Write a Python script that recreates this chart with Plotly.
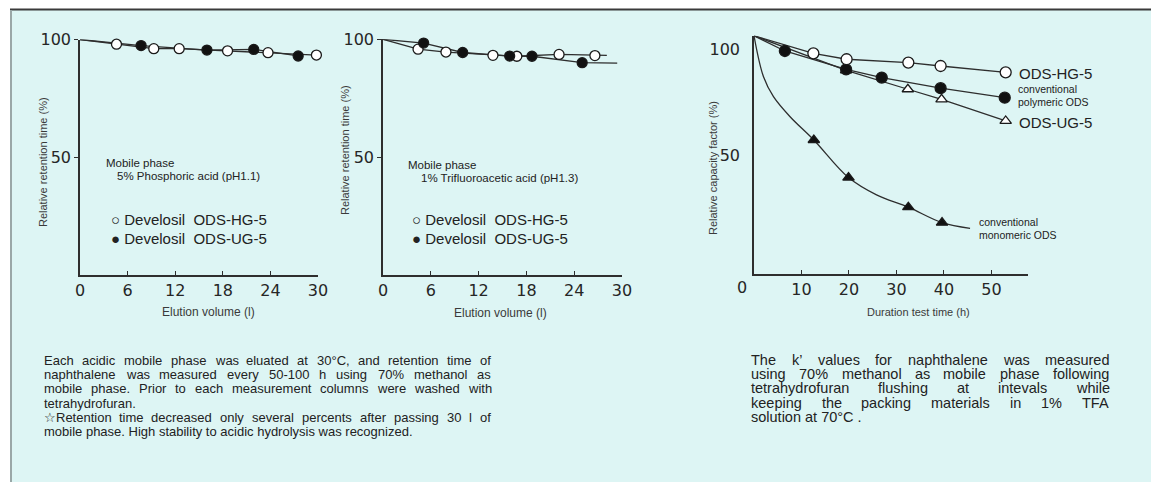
import plotly.graph_objects as go

W, H = 1151, 482

# ---------------- data ----------------
# Panel 1 : 5% phosphoric acid (relative retention time, %)
p1_hg_x = [4.6, 9.3, 12.5, 18.6, 23.7, 29.8]
p1_hg_y = [98.0, 96.1, 96.1, 95.2, 94.4, 93.4]
p1_ug_x = [7.7, 16.0, 21.9, 27.5]
p1_ug_y = [97.4, 95.5, 95.8, 93.0]

# Panel 2 : 1% trifluoroacetic acid
p2_hg_x = [4.4, 7.9, 13.8, 16.8, 22.1, 26.6]
p2_hg_y = [95.8, 94.6, 93.2, 92.8, 93.6, 93.1]
p2_ug_x = [5.1, 10.0, 15.9, 18.7, 25.0]
p2_ug_y = [98.4, 94.4, 92.9, 92.8, 90.1]
p2_hg_tail = [28.1, 93.2]
p2_ug_tail = [29.4, 89.9]
start_12 = [0, 100.0]

# Panel 3 : relative capacity factor (%) vs duration test time (h)
start_3 = [0, 106.4]
hg3_t = [12.5, 19.5, 32.5, 39.3, 53.0]
hg3_v = [98.1, 95.3, 93.7, 92.1, 89.1]
pol_t = [6.5, 19.4, 26.9, 39.3, 52.8]
pol_v = [99.2, 90.5, 86.6, 81.6, 77.1]
ug3_t = [19.4, 32.4, 39.5, 53.0]
ug3_v = [90.0, 81.1, 76.3, 66.1]
mono_t = [12.6, 19.9, 32.5, 39.6]
mono_v = [57.1, 39.3, 25.3, 18.0]
mono_curve_t = [0, 2.0, 4.1, 7.6, 12.6, 19.9, 25.8, 32.5, 39.6, 45.5]
mono_curve_v = [106.4, 87.0, 77.6, 68.1, 57.1, 39.3, 31.1, 25.3, 18.0, 15.3]

x_ticks_12 = [0, 6, 12, 18, 24, 30]
y_ticks = [50, 100]
x_ticks_3 = [10, 20, 30, 40, 50]

left_lines = [
    "Each acidic mobile phase was eluated at 30°C, and retention time of",
    "naphthalene was measured every 50-100 h using 70% methanol as",
    "mobile phase. Prior to each measurement columns were washed with",
    "tetrahydrofuran.",
    "☆Retention time decreased only several percents after passing 30 l of",
    "mobile phase. High stability to acidic hydrolysis was recognized.",
]
left_natural = [3, 5]
right_lines = [
    "The k’ values for naphthalene was measured",
    "using 70% methanol as mobile phase following",
    "tetrahydrofuran flushing at intevals while",
    "keeping the packing materials in 1% TFA",
    "solution at 70°C .",
]
right_natural = [4]

# ---------------- helpers ----------------
def fx(px):
    return px / W

def fy(py):
    return 1 - py / H

LINE = "#2e2e2e"
INK = "#222222"
FONT = "Liberation Sans, Arial, sans-serif"

fig = go.Figure()

def line(xs, ys, xa, ya, shape="linear"):
    fig.add_trace(go.Scatter(x=xs, y=ys, mode="lines", xaxis=xa, yaxis=ya,
                             line=dict(color=LINE, width=1.3, shape=shape),
                             cliponaxis=False, hoverinfo="skip"))

def marks(xs, ys, xa, ya, symbol, filled, size=10):
    fig.add_trace(go.Scatter(x=xs, y=ys, mode="markers", xaxis=xa, yaxis=ya,
                             marker=dict(symbol=symbol, size=size,
                                         color="#111111" if filled else "white",
                                         line=dict(color="#1a1a1a", width=1.3)),
                             cliponaxis=False))

# panel 1
line([start_12[0]] + p1_hg_x, [start_12[1]] + p1_hg_y, "x", "y")
line([start_12[0]] + p1_ug_x, [start_12[1]] + p1_ug_y, "x", "y")
marks(p1_hg_x, p1_hg_y, "x", "y", "circle", False)
marks(p1_ug_x, p1_ug_y, "x", "y", "circle", True)

# panel 2
line([start_12[0]] + p2_hg_x + [p2_hg_tail[0]], [start_12[1]] + p2_hg_y + [p2_hg_tail[1]], "x2", "y2")
line([start_12[0]] + p2_ug_x + [p2_ug_tail[0]], [start_12[1]] + p2_ug_y + [p2_ug_tail[1]], "x2", "y2")
marks(p2_hg_x, p2_hg_y, "x2", "y2", "circle", False)
marks(p2_ug_x, p2_ug_y, "x2", "y2", "circle", True)

# panel 3
line([start_3[0]] + hg3_t, [start_3[1]] + hg3_v, "x3", "y3")
line([start_3[0]] + pol_t, [start_3[1]] + pol_v, "x3", "y3")
line([start_3[0]] + ug3_t, [start_3[1]] + ug3_v, "x3", "y3")
line(mono_curve_t, mono_curve_v, "x3", "y3", shape="spline")
marks(ug3_t, ug3_v, "x3", "y3", "triangle-up", False, 10)
marks(pol_t, pol_v, "x3", "y3", "circle", True, 11)
marks(hg3_t, hg3_v, "x3", "y3", "circle", False, 11)
marks(mono_t, mono_v, "x3", "y3", "triangle-up", True, 10)

axis_common = dict(showline=True, linecolor=LINE, linewidth=1.5, showgrid=False,
                   zeroline=False, tickcolor=LINE, automargin=False, fixedrange=True,
                   tickfont=dict(family="DejaVu Sans, sans-serif", size=16, color="#262626"))

fig.update_layout(
    width=W, height=H, autosize=False,
    margin=dict(l=0, r=0, t=0, b=0, pad=0),
    paper_bgcolor="white", plot_bgcolor="rgba(0,0,0,0)",
    showlegend=False,
    font=dict(family=FONT, color=INK),
    xaxis=dict(axis_common, domain=[fx(80), fx(318)], range=[0, 30], tickvals=x_ticks_12,
               ticks="inside", ticklen=4, anchor="y"),
    yaxis=dict(axis_common, domain=[fy(275), fy(39.5)], range=[0, 100], tickvals=y_ticks,
               ticks="outside", ticklen=4, anchor="x"),
    xaxis2=dict(axis_common, domain=[fx(383), fx(622)], range=[0, 30], tickvals=x_ticks_12,
                ticks="inside", ticklen=4, anchor="y2"),
    yaxis2=dict(axis_common, domain=[fy(275), fy(39.3)], range=[0, 100], tickvals=y_ticks,
                ticks="outside", ticklen=4, anchor="x2"),
    xaxis3=dict(axis_common, domain=[fx(754), fx(1028)], range=[0, 57.7], tickvals=x_ticks_3,
                ticks="inside", ticklen=4, anchor="y3"),
    yaxis3=dict(axis_common, domain=[fy(274), fy(35.7)], range=[-6.29, 106.43], tickvals=y_ticks,
                ticks="", ticklabelstandoff=9, anchor="x3"),
)

# background card
fig.add_shape(type="rect", xref="paper", yref="paper", x0=fx(10), x1=1, y0=0, y1=fy(10),
              fillcolor="#ddf5f4", line=dict(width=0), layer="below")
fig.add_shape(type="line", xref="paper", yref="paper", x0=fx(10), x1=1, y0=fy(9.5), y1=fy(9.5),
              line=dict(color="#3a3a3a", width=2), layer="below")
fig.add_shape(type="line", xref="paper", yref="paper", x0=fx(11), x1=fx(11), y0=0, y1=fy(10),
              line=dict(color="#9aa7a7", width=2), layer="below")

def note(text, px, py, size, xanchor="left", angle=0, color=INK, family=FONT):
    fig.add_annotation(text=text, x=fx(px), y=fy(py), xref="paper", yref="paper",
                       xanchor=xanchor, yanchor="middle", showarrow=False, textangle=angle,
                       borderpad=0, font=dict(size=size, color=color, family=family))

NB = "\u00a0"
# panel 1 texts
note("Relative retention time (%)", 43, 162, 11, "center", -90, "#3a3a3a")
note("Elution volume (l)", 208, 312, 12, "center", 0, "#3a3a3a")
note("Mobile phase", 105, 163, 11.5)
note("5% Phosphoric acid (pH1.1)", 116, 176, 11.5)
note("○ Develosil" + NB * 2 + "ODS-HG-5", 110, 220, 15)
note("● Develosil" + NB * 2 + "ODS-UG-5", 110, 238, 15)
# panel 2 texts
note("Relative retention time (%)", 345, 150, 11, "center", -90, "#3a3a3a")
note("Elution volume (l)", 500, 313, 12, "center", 0, "#3a3a3a")
note("Mobile phase", 407, 165, 11.5)
note("1% Trifluoroacetic acid (pH1.3)", 420, 178, 11.5)
note("○ Develosil" + NB * 2 + "ODS-HG-5", 411, 220, 15)
note("● Develosil" + NB * 2 + "ODS-UG-5", 411, 238, 15)
# panel 3 texts
note("0", 742, 287, 16, "center", 0, "#262626", "DejaVu Sans, sans-serif")
note("Relative capacity factor (%)", 713, 168, 11, "center", -90, "#3a3a3a")
note("Duration test time (h)", 918, 312, 11, "center", 0, "#3a3a3a")
note("ODS-HG-5", 1018, 73, 15)
note("conventional", 1017, 89, 10.5)
note("polymeric ODS", 1017, 101.5, 10.5)
note("ODS-UG-5", 1018, 122, 15)
note("conventional", 978, 222, 10.5)
note("monomeric ODS", 978, 235, 10.5)

# justified captions
ARIAL = {' ': 278, '%': 889, "'": 191, '’': 222, '(': 333, ')': 333, ',': 278, '-': 333, '.': 278,
         '°': 400, '☆': 838,
         'A': 667, 'B': 667, 'C': 722, 'D': 722, 'E': 667, 'F': 611, 'G': 778, 'H': 722, 'I': 278,
         'K': 667, 'L': 556, 'M': 833, 'N': 722, 'O': 778, 'P': 667, 'R': 722, 'S': 667, 'T': 611,
         'a': 556, 'b': 556, 'c': 500, 'd': 556, 'e': 556, 'f': 278, 'g': 556, 'h': 556, 'i': 222,
         'j': 222, 'k': 500, 'l': 222, 'm': 833, 'n': 556, 'o': 556, 'p': 556, 'q': 556, 'r': 333,
         's': 500, 't': 278, 'u': 556, 'v': 500, 'w': 722, 'x': 500, 'y': 500, 'z': 500}

def text_w(s, size):
    return sum(ARIAL.get(c, 556) for c in s) * size / 1000.0

def paragraph(lines, natural, x_left, x_right, y0, dy, size):
    for i, ln in enumerate(lines):
        py = y0 + i * dy
        if i in natural:
            note(ln, x_left, py, size)
            continue
        words = ln.split(" ")
        widths = [text_w(w, size) for w in words]
        gap = (x_right - x_left - sum(widths)) / (len(words) - 1)
        pos = x_left
        for w, ww in zip(words, widths):
            note(w, pos, py, size)
            pos += ww + gap

paragraph(left_lines, left_natural, 43, 490, 360, 14.35, 13)
paragraph(right_lines, right_natural, 750, 1108, 360, 14.2, 14.5)

fig.write_html("out.html", config={"displayModeBar": False},
               post_script="document.body.style.margin='0';document.body.style.overflow='hidden';")
